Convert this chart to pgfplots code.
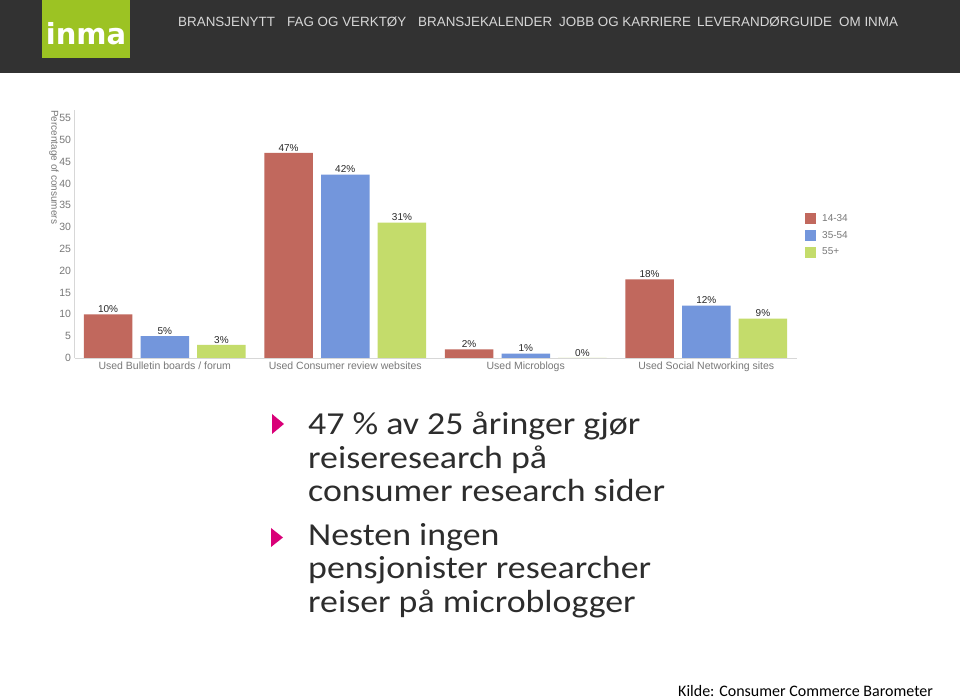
\documentclass[border=0pt]{standalone}
\usepackage{fontspec}
\usepackage{graphicx}
\setmainfont{Liberation Sans}
\newfontfamily\calibri{Carlito}
\newfontfamily\logofont{DejaVu Sans}
\usepackage{pgfplots}
\pgfplotsset{compat=1.18}
\definecolor{headerbg}{RGB}{50,50,50}
\definecolor{logogreen}{RGB}{156,195,35}
\definecolor{menutext}{RGB}{215,215,215}
\definecolor{barred}{RGB}{193,104,93}
\definecolor{barblue}{RGB}{115,150,220}
\definecolor{bargreen}{RGB}{196,220,107}
\definecolor{ticklab}{RGB}{120,120,120}
\definecolor{axisgray}{RGB}{215,215,215}
\definecolor{bulletmag}{RGB}{217,0,120}
\definecolor{bodytext}{RGB}{45,45,45}
\definecolor{vallab}{RGB}{40,40,40}
\pgfplotsset{sqlegend/.style={legend image code/.code={\fill[##1,draw=none] (0bp,-5.5bp) rectangle (11bp,5.5bp);}}}
\newcommand{\wide}[1]{\scalebox{1.12}[1]{#1}}
\begin{document}
\begin{tikzpicture}[x=1bp,y=1bp]
\useasboundingbox (0,0) rectangle (960,700);
\fill[white] (0,0) rectangle (960,700);
% header
\fill[headerbg] (0,627) rectangle (960,700);
\fill[logogreen] (42,642) rectangle (130,700);
\node[text=white, font=\logofont\fontsize{29bp}{29bp}\selectfont\bfseries, inner sep=0pt] at (86,666) {inma};
\begin{scope}[every node/.style={anchor=west, inner sep=0pt, text=menutext, font=\fontsize{13.4bp}{13.4bp}\selectfont}]
\node at (178,678) {BRANSJENYTT};
\node at (287,678) {FAG OG VERKTØY};
\node at (418,678) {BRANSJEKALENDER};
\node at (559,678) {JOBB OG KARRIERE};
\node at (697,678) {LEVERANDØRGUIDE};
\node at (839,678) {OM INMA};
\end{scope}
% chart
\begin{axis}[
  at={(74.5bp,342bp)}, anchor=south west,
  scale only axis, width=722bp, height=247.9bp,
  xmin=-0.5, xmax=3.5, ymin=0, ymax=56.8,
  ybar=8.2bp, bar width=48.5bp,
  axis x line*=bottom, axis y line*=left,
  axis line style={draw=axisgray, line width=0.8bp},
  major tick length=0pt,
  ytick={0,5,...,55},
  xtick={0,1,2,3},
  xticklabels={Used Bulletin boards / forum, Used Consumer review websites, Used Microblogs, Used Social Networking sites},
  /pgf/number format/assume math mode=true,
  yticklabel style={font=\fontsize{10.5bp}{12bp}\selectfont, text=ticklab},
  xticklabel style={font=\fontsize{10.5bp}{12bp}\selectfont, text=ticklab},
  nodes near coords={\pgfmathprintnumber{\pgfplotspointmeta}\%},
  every node near coord/.append style={font=\fontsize{10bp}{11bp}\selectfont, text=vallab, inner sep=1.5bp},
  legend style={at={(1.0118,0.589)}, anchor=north west, draw=none, fill=none, inner sep=0pt, row sep=4.5bp, column sep=4bp, font=\fontsize{10bp}{11bp}\selectfont, text=ticklab},
  legend cell align=left,
]
\addplot[fill=barred, draw=none, sqlegend] coordinates {(0,10) (1,47) (2,2) (3,18)};
\addplot[fill=barblue, draw=none, sqlegend] coordinates {(0,5) (1,42) (2,1) (3,12)};
\addplot[fill=bargreen, draw=none, sqlegend] coordinates {(0,3) (1,31) (2,0) (3,9)};
\legend{14-34, 35-54, 55+}
\end{axis}
\node[rotate=-90, anchor=west, inner sep=0pt, text=ticklab, font=\fontsize{10bp}{11bp}\selectfont] at (54,590) {Percentage of consumers};
% bullets
\fill[bulletmag] (272,286) -- (284,276) -- (272,266) -- cycle;
\fill[bulletmag] (271,172) -- (283,162.5) -- (271,153) -- cycle;
\begin{scope}[every node/.style={anchor=base west, inner sep=0pt, text=bodytext, font=\calibri\fontsize{32bp}{34bp}\selectfont}]
\node at (308,265) {\wide{47 \% av 25 åringer gjør}};
\node at (308,231.5) {\wide{reiseresearch på}};
\node at (308,198) {\wide{consumer research sider}};
\node at (308,154.5) {\wide{Nesten ingen}};
\node at (308,121) {\wide{pensjonister researcher}};
\node at (308,87) {\wide{reiser på microblogger}};
\end{scope}
\node[anchor=base west, inner sep=0pt, text=black, font=\calibri\fontsize{16bp}{16bp}\selectfont] at (678,3) {Kilde: Consumer Commerce Barometer};
\end{tikzpicture}
\end{document}
